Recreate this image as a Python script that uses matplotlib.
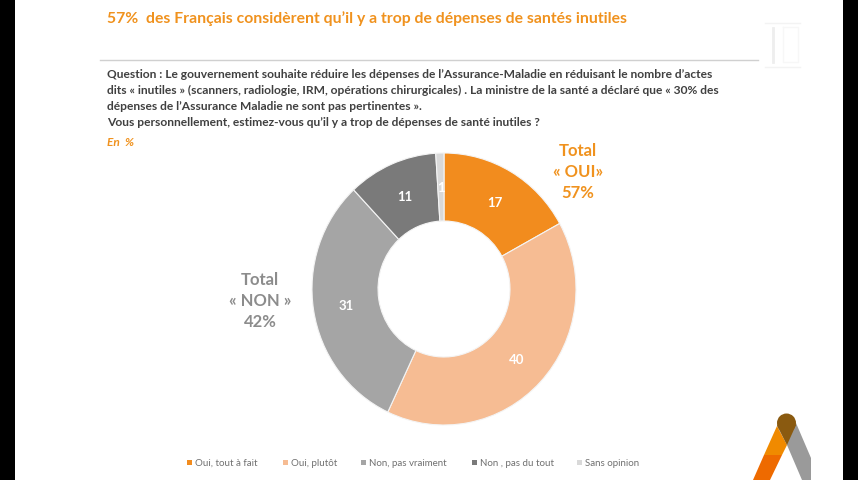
import math
import matplotlib
matplotlib.use("Agg")
import matplotlib.pyplot as plt
from matplotlib.patches import Polygon, Rectangle, Circle

plt.rcParams['font.family'] = ['Lato', 'DejaVu Sans']

# data
labels = ['Oui, tout à fait', 'Oui, plutôt', 'Non, pas vraiment', 'Non , pas du tout', 'Sans opinion']
values = [17, 40, 31, 11, 1]
colors = ['#F28C1E', '#F6BC93', '#A5A5A5', '#7A7A7A', '#D9D9D9']

title = "57%  des Français considèrent qu’il y a trop de dépenses de santés inutiles"
question = ["Question : Le gouvernement souhaite réduire les dépenses de l’Assurance-Maladie en réduisant le nombre d’actes",
            "dits « inutiles » (scanners, radiologie, IRM, opérations chirurgicales) . La ministre de la santé a déclaré que « 30% des",
            "dépenses de l’Assurance Maladie ne sont pas pertinentes »."]
question2 = "Vous personnellement, estimez-vous qu’il y a trop de dépenses de santé inutiles ?"

W, H = 858, 480
fig = plt.figure(figsize=(W/100, H/100), dpi=100, facecolor='white')

# page axes in pixels
bg = fig.add_axes([0, 0, 1, 1])
bg.set_xlim(0, W)
bg.set_ylim(H, 0)
bg.axis('off')

# black bars of the video frame
bg.add_patch(Rectangle((0, 0), 15, H, color='black', lw=0))
bg.add_patch(Rectangle((843, 0), 15, H, color='black', lw=0))

bg.text(107, 19, title, color='#F0921E', fontsize=11.3, fontweight='bold', va='center')
bg.plot([100, 758], [60, 60], color='#D0D0D0', lw=1)

# faint watermark top right
bg.plot([765, 800], [23, 23], color='#F3F3F3', lw=1)
bg.plot([765, 800], [67, 67], color='#F3F3F3', lw=1)
bg.plot([783, 783, 798, 798, 783], [27, 62, 62, 27, 27], color='#F7F7F7', lw=1)
bg.plot([773, 773], [28, 62], color='#EEEEEE', lw=2)

for y, line in zip([74, 90, 106], question):
    bg.text(107, y, line, color='#404040', fontsize=8.62, fontweight='bold', va='center')
bg.text(107, 123, question2, color='#404040', fontsize=8.62, fontweight='bold', va='center')
bg.text(107, 142, 'En  %', color='#F0921E', fontsize=8.6, fontstyle='italic', fontweight='bold', va='center')

# totals
bg.text(578, 172, 'Total\n« OUI»\n57%', color='#F0921E', fontsize=12, fontweight='bold',
        ha='center', va='center', linespacing=1.37)
bg.text(260, 301, 'Total\n« NON »\n42%', color='#8C8C8C', fontsize=12, fontweight='bold',
        ha='center', va='center', linespacing=1.37)

# legend
for x, lab, c in zip([187, 283, 361, 472, 577], labels, colors):
    bg.add_patch(Rectangle((x, 460), 5, 5, color=c, lw=0))
    bg.text(x + 8, 463, lab, color='#707070', fontsize=7, va='center')

# logo
bg.add_patch(Polygon([[796, 423], [811, 458], [811, 480], [802, 480], [787, 445], [777, 426]], color='#9A9A9A', lw=0))
bg.add_patch(Polygon([[777, 426], [787, 445], [782, 455], [764, 455]], color='#F08A00', lw=0))
bg.add_patch(Polygon([[764, 455], [782, 455], [770, 480], [753, 480]], color='#EE6A00', lw=0))
bg.add_patch(Circle((786.5, 423), 9.5, color='#8A5A10', lw=0))
bg.add_patch(Polygon([[777, 425], [796, 425], [787, 445]], color='#8A5A10', lw=0))

# donut, slightly stretched vertically like the video frame
RX, RY, CX, CY = 132, 136, 444, 289
ax = fig.add_axes([(CX-RX)/W, 1-(CY+RY)/H, 2*RX/W, 2*RY/H])
wedges, _ = ax.pie(values, colors=colors, startangle=90, counterclock=False, radius=1,
                   wedgeprops=dict(width=0.5, edgecolor='#F4F4F4', linewidth=0.8))
ax.set_xlim(-1, 1)
ax.set_ylim(-1, 1)
ax.set_aspect('auto')

total = sum(values)
cum = 0
for v in values:
    mid = (cum + v/2) / total * 2 * math.pi
    cum += v
    ax.text(0.75*math.sin(mid), 0.75*math.cos(mid) - 0.01, str(v),
            color='white', fontsize=9.5, fontweight='bold', ha='center', va='center')

fig.savefig('out.png', dpi=100)
